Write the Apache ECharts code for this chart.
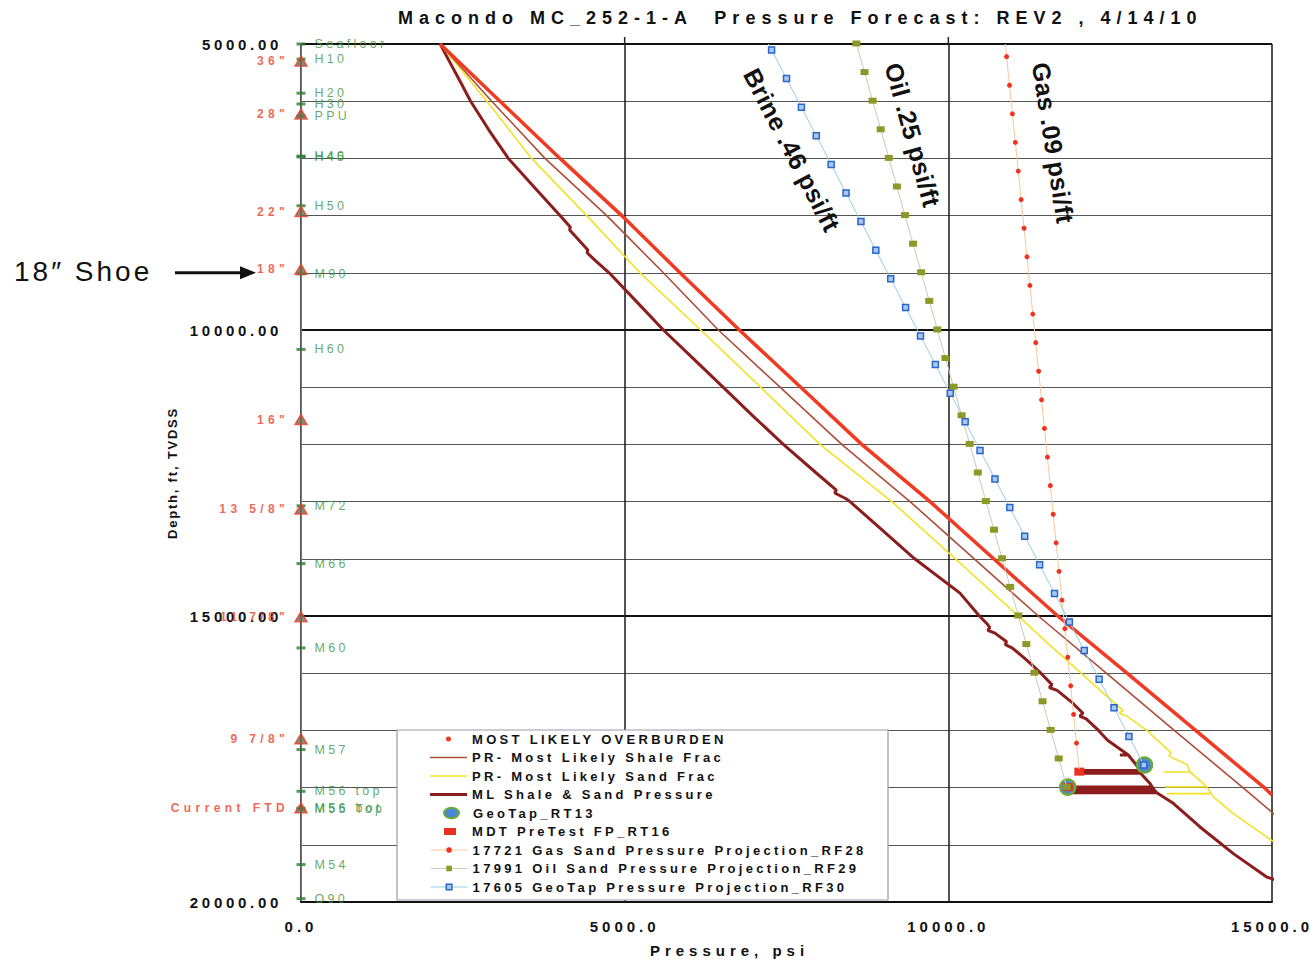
<!DOCTYPE html>
<html>
<head>
<meta charset="utf-8">
<script src="https://cdn.jsdelivr.net/npm/echarts@6/dist/echarts.min.js"></script>
<style>
html,body{margin:0;padding:0;background:#ffffff;}
#chart{width:1315px;height:963px;}
</style>
</head>
<body>
<div id="chart"></div>
<script>
// ---------------- DATA ----------------
const titleText = 'Macondo MC_252-1-A  Pressure Forecast: REV2 , 4/14/10';
const xAxisName = 'Pressure, psi';
const yAxisName = 'Depth, ft, TVDSS';
const shoeText = '18\u2033 Shoe';

const legendNames = [
  'MOST LIKELY OVERBURDEN',
  'PR- Most Likely Shale Frac',
  'PR- Most Likely Sand Frac',
  'ML Shale & Sand Pressure',
  'GeoTap_RT13',
  'MDT PreTest FP_RT16',
  '17721 Gas Sand Pressure Projection_RF28',
  '17991 Oil Sand Pressure Projection_RF29',
  '17605 GeoTap Pressure Projection_RF30'
];

// Most likely overburden
const overburdenDepth = [5000, 6000, 7000, 8000, 9000, 10000, 11000, 12000, 13000, 14000, 15000, 16000, 17000, 18000, 18130];
const overburdenPsi   = [2150, 3074, 4001, 4955, 5855, 6771, 7720, 8662, 9717, 10700, 11690, 12760, 13820, 14880, 15000];

// PR most likely shale frac
const shaleFracDepth = [5000, 6000, 7000, 8000, 9000, 10000, 11000, 12000, 13000, 14000, 15000, 16000, 17000, 18000, 18600];
const shaleFracPsi   = [2150, 2946, 3769, 4723, 5598, 6447, 7400, 8353, 9408, 10400, 11390, 12440, 13490, 14550, 15175];

// PR most likely sand frac
const sandFracDepth = [5000, 6000, 7000, 8000, 9000, 10000, 11000, 12000, 13000, 14000,
  15000, 15500, 16000, 16300, 16650, 16700, 16750, 17000, 17390, 17450, 17600,
  17726, 17726, 17726, 17930, 17988, 17988, 17988, 18105, 18105, 18105, 18163, 18455, 18863, 19066];
const sandFracPsi = [2150, 2870, 3563, 4414, 5237, 6175, 7100, 8018, 9125, 10110,
  11080, 11560, 12050, 12344, 12700, 12640, 12760, 13065, 13440, 13410, 13690,
  13734, 13322, 13734, 13940, 13992, 13348, 13992, 14060, 13374, 14060, 14094, 14403, 14918, 15175];

// ML shale & sand pressure
const mlDepth = [5000, 5300, 5700, 6000, 6500, 7000, 7500, 8000, 8200, 8250, 8400, 8600, 8650, 8800, 9000,
  9500, 10000, 10500, 11000, 11500, 12000, 12500, 12800, 12850, 12950, 13000, 13500, 14000, 14600, 15000,
  15130, 15200, 15250, 15300, 15450, 15500, 15560, 15773, 16000, 16200, 16250, 16300, 16500, 16700, 16750,
  16800, 17000, 17172, 17430, 17430, 17430, 17600, 17700, 17700, 17700, 17750, 17750, 17750, 17930,
  17990, 17990, 17990, 18040, 18040, 18040, 18090, 18090, 18090, 18275, 18688, 19154, 19563, 19650];
const mlPsi = [2150, 2290, 2480, 2620, 2900, 3203, 3600, 4001, 4160, 4150, 4270, 4430, 4420, 4560, 4760,
  5180, 5598, 6060, 6520, 6980, 7451, 7960, 8270, 8245, 8420, 8481, 8980, 9480, 10180, 10480,
  10593, 10640, 10610, 10720, 10900, 10880, 10990, 11211, 11430, 11600, 11560, 11680, 11900, 12080, 12030,
  12130, 12320, 12460, 12780, 12650, 12780, 12900, 12960, 12080, 12960, 12970, 12080, 12970, 13116,
  13150, 11860, 13150, 13180, 11860, 13180, 13220, 11860, 13220, 13475, 13888, 14403, 14918, 15150];

// Measured points
const geoTapDepth = [17605, 17991];
const geoTapPsi   = [13030, 11845];
const mdtDepth = [17721, 17991];
const mdtPsi   = [12024, 11845];

// Gas sand projection (first point = line top, no marker)
const gasDepth = [5000, 5221, 5721, 6221, 6721, 7221, 7721, 8221, 8721, 9221, 9721, 10221, 10721, 11221,
  11721, 12221, 12721, 13221, 13721, 14221, 14721, 15221, 15721, 16221, 16721, 17221, 17721];
const gasPsi = [10880, 10900, 10945, 10990, 11035, 11080, 11125, 11170, 11215, 11260, 11305, 11350, 11395, 11440,
  11485, 11530, 11575, 11620, 11665, 11710, 11755, 11800, 11845, 11890, 11935, 11980, 12024];

// Oil sand projection
const oilDepth = [4991, 5491, 5991, 6491, 6991, 7491, 7991, 8491, 8991, 9491, 9991, 10491, 10991, 11491,
  11991, 12491, 12991, 13491, 13991, 14491, 14991, 15491, 15991, 16491, 16991, 17491, 17991];
const oilPsi = [8580, 8705, 8830, 8955, 9080, 9205, 9330, 9455, 9580, 9705, 9830, 9955, 10080, 10205,
  10330, 10455, 10580, 10705, 10830, 10955, 11080, 11205, 11330, 11455, 11580, 11705, 11830];

// Brine (GeoTap) projection (first point = line top, no marker)
const brineDepth = [5000, 5105, 5605, 6105, 6605, 7105, 7605, 8105, 8605, 9105, 9605, 10105, 10605, 11105,
  11605, 12105, 12605, 13105, 13605, 14105, 14605, 15105, 15605, 16105, 16605, 17105, 17605];
const brinePsi = [7220, 7270, 7500, 7730, 7960, 8190, 8420, 8650, 8880, 9110, 9340, 9570, 9800, 10030,
  10260, 10490, 10720, 10950, 11180, 11410, 11640, 11870, 12100, 12330, 12560, 12790, 13020];

// Casing points (left axis)
const casingDepth  = [5300, 6225, 7930, 8940, 11565, 13130, 15015, 17145, 18355];
const casingLabels = ['36"', '28"', '22"', '18"', '16"', '13 5/8"', '11 7/8"', '9 7/8"', 'Current FTD'];

// Formation tops (left axis)
const formationDepth = [5000, 5265, 5860, 6049, 6259, 6960, 6975, 7828, 9020, 10340, 13074, 14083, 15558, 17335, 18064, 18360, 18375, 19346, 19941];
const formationNames = ['Seafloor', 'H10', 'H20', 'H30', 'PPU', 'H40', 'H45', 'H50', 'M90', 'H60', 'M72', 'M66', 'M60', 'M57', 'M56 top', 'M56 bot', 'M55 Top', 'M54', 'O90'];

// Gradient annotations
const gradientLabels = ['Brine .46 psi/ft', 'Oil .25 psi/ft', 'Gas .09 psi/ft'];
const gradientAnchorPsi = [7585, 9450, 11620];
const gradientAnchorDepth = [6854, 6590, 6730];
const gradientAngleDeg = [62.5, 74.5, 81];

// ---------------- CHART ----------------
const FONT = '"Liberation Sans", Arial, Helvetica, sans-serif';
const zip = (xs, ys) => xs.map((x, i) => [x, ys[i]]);
const chart = echarts.init(document.getElementById('chart'), null, { renderer: 'svg' });

const C = {
  over: '#f03a22', shale: '#ad4d3a', sand: '#f2e227', ml: '#8c1d1d',
  gasLine: '#f6c99c', gasDot: '#f0321e',
  oilLine: '#c9cab8', oilDot: '#8b9a26',
  brineLine: '#9acbe8', brineFill: '#a9c8f0', brineBorder: '#2a66cc',
  geoFill: '#4a86d8', geoBorder: '#6aaa3a', mdt: '#e8301e'
};

// every icon path spans the full 37-wide box (leading moveTo points fix its extent)
const legendIcons = [
  { icon: 'path://M0,0M37,6M16,3a2.5,2.5 0 1,0 5,0a2.5,2.5 0 1,0 -5,0Z', w: 37, h: 6, itemStyle: { color: C.over } },
  { icon: 'path://M0,0H37V1.3H0Z', w: 37, h: 14, itemStyle: { color: C.shale } },
  { icon: 'path://M0,0H37V1.3H0Z', w: 37, h: 14, itemStyle: { color: C.sand } },
  { icon: 'path://M0,0H37V3H0Z', w: 37, h: 14, itemStyle: { color: C.ml } },
  { icon: 'path://M0,0M37,12M13,6a7.5,5.2 0 1,0 15,0a7.5,5.2 0 1,0 -15,0Z', w: 37, h: 12, itemStyle: { color: C.geoFill, borderColor: C.geoBorder, borderWidth: 2 } },
  { icon: 'path://M0,0M37,8M14,0.5h12v7h-12Z', w: 37, h: 8, itemStyle: { color: C.mdt } },
  { w: 37, h: 7, itemStyle: { color: C.gasDot, borderWidth: 0 }, lineStyle: { color: C.gasLine, width: 1.2 } },
  { w: 37, h: 7, itemStyle: { color: C.oilDot, borderWidth: 0 }, lineStyle: { color: C.oilLine, width: 1.2 } },
  { w: 37, h: 7, itemStyle: { color: C.brineFill, borderColor: C.brineBorder, borderWidth: 1.5 }, lineStyle: { color: C.brineLine, width: 1.2 } }
];

const legendTextX = 472, rowY0 = 739, rowStep = 18.5;
const legends = legendNames.map((name, i) => {
  const r = legendIcons[i];
  const item = { name: name, itemStyle: r.itemStyle };
  if (r.icon) item.icon = r.icon;
  if (r.lineStyle) item.lineStyle = r.lineStyle;
  return {
    show: true, orient: 'horizontal', selectedMode: false, padding: 0, itemGap: 0,
    left: legendTextX - 5 - r.w, top: rowY0 + i * rowStep - 7,
    itemWidth: r.w, itemHeight: r.h, z: 6,
    textStyle: { fontFamily: FONT, fontSize: 13, fontWeight: 'bold', color: '#111', lineHeight: 14 },
    data: [item]
  };
});

const option = {
  animation: false,
  backgroundColor: '#ffffff',
  title: {
    text: titleText, left: 398, top: 9, padding: 0,
    textStyle: { fontFamily: FONT, fontSize: 18, fontWeight: 'bold', color: '#111' }
  },
  grid: { left: 301, right: 43, top: 44, bottom: 60 },
  xAxis: {
    type: 'value', min: 0, max: 15000, interval: 5000,
    axisLine: { show: true, lineStyle: { color: '#111', width: 2 } },
    axisTick: { show: false },
    axisLabel: { formatter: v => v.toFixed(1), margin: 17, fontFamily: FONT, fontSize: 15, fontWeight: 'bold', color: '#111' },
    splitLine: { show: true, lineStyle: { color: '#1a1a1a', width: 1.5 } },
    name: xAxisName, nameLocation: 'middle', nameGap: 41,
    nameTextStyle: { fontFamily: FONT, fontSize: 15, fontWeight: 'bold', color: '#111', padding: [0, 114, 0, 0] }
  },
  yAxis: {
    type: 'value', inverse: true, min: 5000, max: 20000, interval: 5000,
    axisLine: { show: true, onZero: false, lineStyle: { color: '#777', width: 1 } },
    axisTick: { show: false },
    axisLabel: { formatter: v => v.toFixed(2), margin: 19, fontFamily: FONT, fontSize: 15, fontWeight: 'bold', color: '#111' },
    splitLine: { show: true, lineStyle: { color: '#111', width: 2 } },
    minorTick: { show: false, splitNumber: 5 },
    minorSplitLine: { show: true, lineStyle: { color: '#555', width: 1 } },
    name: yAxisName, nameLocation: 'middle', nameGap: 122, nameRotate: 90,
    nameTextStyle: { fontFamily: FONT, fontSize: 13, fontWeight: 'bold', color: '#111' }
  },
  legend: legends,
  series: [
    { name: legendNames[3], type: 'line', data: zip(mlPsi, mlDepth), symbol: 'none', clip: false,
      lineStyle: { color: C.ml, width: 3 }, itemStyle: { color: C.ml }, z: 2 },
    { name: legendNames[2], type: 'line', data: zip(sandFracPsi, sandFracDepth), symbol: 'none', clip: false,
      lineStyle: { color: C.sand, width: 1.6 }, itemStyle: { color: C.sand }, z: 2 },
    { name: legendNames[1], type: 'line', data: zip(shaleFracPsi, shaleFracDepth), symbol: 'none', clip: false,
      lineStyle: { color: C.shale, width: 1.6 }, itemStyle: { color: C.shale }, z: 2 },
    { name: legendNames[0], type: 'line', data: zip(overburdenPsi, overburdenDepth), symbol: 'none', clip: false,
      lineStyle: { color: C.over, width: 3.5 }, itemStyle: { color: C.over }, z: 2 },
    { name: legendNames[4], type: 'scatter', data: zip(geoTapPsi, geoTapDepth), symbol: 'circle', symbolSize: 15, clip: false,
      itemStyle: { color: C.geoFill, borderColor: C.geoBorder, borderWidth: 2.5, opacity: 1 }, z: 3 },
    { name: legendNames[5], type: 'scatter', data: zip(mdtPsi, mdtDepth), symbol: 'rect', symbolSize: [10, 8], clip: false,
      itemStyle: { color: C.mdt, opacity: 1 }, z: 3 },
    { name: legendNames[6], type: 'line', clip: false,
      data: gasPsi.map((p, i) => i === 0 ? { value: [p, gasDepth[i]], symbol: 'none' } : [p, gasDepth[i]]),
      symbol: 'circle', symbolSize: 5, showSymbol: true,
      lineStyle: { color: C.gasLine, width: 1 }, itemStyle: { color: C.gasDot, borderWidth: 0 }, z: 4 },
    { name: legendNames[7], type: 'line', clip: false,
      data: zip(oilPsi, oilDepth),
      symbol: 'rect', symbolSize: [8, 6], showSymbol: true,
      lineStyle: { color: C.oilLine, width: 1 }, itemStyle: { color: C.oilDot, borderWidth: 0 }, z: 4 },
    { name: legendNames[8], type: 'line', clip: false,
      data: brinePsi.map((p, i) => i === 0 ? { value: [p, brineDepth[i]], symbol: 'none' } : [p, brineDepth[i]]),
      symbol: 'rect', symbolSize: 6, showSymbol: true,
      lineStyle: { color: C.brineLine, width: 1 }, itemStyle: { color: C.brineFill, borderColor: C.brineBorder, borderWidth: 1.5 }, z: 4 },
    { name: 'Formation tops', type: 'scatter', clip: false, silent: true,
      data: formationDepth.map(d => [0, d]), symbol: 'rect', symbolSize: [9, 3],
      itemStyle: { color: '#2e7d32' },
      label: { show: true, position: 'right', distance: 9, formatter: p => formationNames[p.dataIndex],
        fontFamily: FONT, fontSize: 12.5, color: '#3b933b' }, z: 5 },
    { name: 'Casing', type: 'scatter', clip: false, silent: true,
      data: casingDepth.map(d => [0, d]), symbol: 'triangle', symbolSize: [12, 10],
      itemStyle: { color: '#716a4e', borderColor: '#e8402a', borderWidth: 1.5 },
      label: { show: true, position: 'left', distance: 5, formatter: p => casingLabels[p.dataIndex],
        fontFamily: FONT, fontSize: 12, fontWeight: 'bold', color: '#e8402a' }, z: 6 }
  ]
};

function applySpacing() {
  const texts = document.querySelectorAll('#chart svg text');
  texts.forEach(t => {
    const s = t.textContent;
    let ls = null;
    if (s === titleText) ls = 6;
    else if (/^\d+\.00$/.test(s)) ls = 3.7;
    else if (/^\d+\.0$/.test(s)) ls = 4;
    else if (s === xAxisName) ls = 5;
    else if (s === yAxisName) ls = 1.8;
    else if (legendNames.indexOf(s) >= 0) ls = 3.3;
    else if (formationNames.indexOf(s) >= 0) ls = 3.3;
    else if (casingLabels.indexOf(s) >= 0) ls = 4.4;
    else if (s === shoeText) ls = 3;
    else if (gradientLabels.indexOf(s) >= 0) ls = 0.5;
    if (ls !== null) t.style.letterSpacing = ls + 'px';
  });
}
chart.on('finished', applySpacing);
chart.setOption(option);

// annotations positioned through the axes
const px = (x, y) => chart.convertToPixel({ gridIndex: 0 }, [x, y]);
const gTop = px(0, 5000)[1];
const arrowY = px(0, 9000)[1];
const graphics = [
  { type: 'rect', z: 5, shape: { x: 397, y: 730, width: 491, height: 170 },
    style: { fill: '#ffffff', stroke: '#9a9ab0', lineWidth: 1.2 } },
  { type: 'line', z: 5, shape: { x1: px(5000, 0)[0], y1: gTop - 7, x2: px(5000, 0)[0], y2: gTop }, style: { stroke: '#222', lineWidth: 1.5 } },
  { type: 'line', z: 5, shape: { x1: px(10000, 0)[0], y1: gTop - 7, x2: px(10000, 0)[0], y2: gTop }, style: { stroke: '#222', lineWidth: 1.5 } },
  { type: 'text', z: 7, x: 14, y: arrowY - 1,
    style: { text: shoeText, fontFamily: FONT, fontSize: 28, fill: '#111', align: 'left', verticalAlign: 'middle', textAlign: 'left', textVerticalAlign: 'middle' } },
  { type: 'line', z: 7, shape: { x1: 175, y1: arrowY, x2: 243, y2: arrowY }, style: { stroke: '#111', lineWidth: 3 } },
  { type: 'polygon', z: 7, shape: { points: [[256, arrowY], [240, arrowY - 6.5], [240, arrowY + 6.5]] }, style: { fill: '#111' } }
];
gradientLabels.forEach((lab, i) => {
  const c = px(gradientAnchorPsi[i], gradientAnchorDepth[i]);
  graphics.push({
    type: 'text', z: 7, x: c[0], y: c[1], rotation: -gradientAngleDeg[i] * Math.PI / 180,
    style: { text: lab, fontFamily: FONT, fontSize: 25, fontWeight: 'bold', fill: '#111',
      align: 'center', verticalAlign: 'middle', textAlign: 'center', textVerticalAlign: 'middle' }
  });
});
chart.setOption({ graphic: graphics });
applySpacing();
setTimeout(applySpacing, 50);
</script>
</body>
</html>
